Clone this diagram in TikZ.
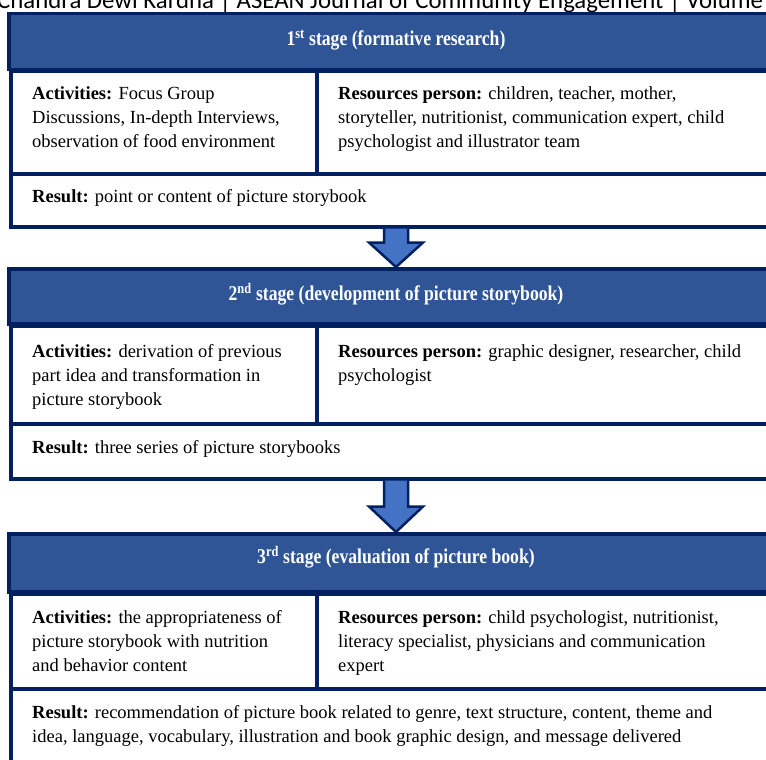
\documentclass[tikz,border=0pt]{standalone}
\usepackage{fontspec}
\setmainfont{Liberation Serif}
\newfontfamily\hdrfont{Carlito}
\usetikzlibrary{calc}
\definecolor{navy}{RGB}{0,32,96}
\definecolor{hdrblue}{RGB}{47,85,151}
\definecolor{arrowblue}{RGB}{68,114,196}
\tikzset{
  hdr/.style={draw=navy, line width=3.5pt, fill=hdrblue, anchor=north west, inner sep=0, minimum width=800pt},
  cell/.style={draw=navy, line width=3.5pt, fill=white, anchor=north west, inner sep=0},
  body/.style={anchor=base west, inner sep=0, align=left, font=\fontsize{18.5}{24}\selectfont},
  title/.style={text=white, inner sep=0, anchor=center, font=\fontsize{21}{21}\selectfont\bfseries},
  blockarrow/.style={draw=navy, line width=2.5pt, fill=arrowblue, line join=miter}
}
\newcommand{\ttl}[1]{\scalebox{0.84}[1]{#1}}
\begin{document}
\begin{tikzpicture}[x=1pt,y=-1pt]
\useasboundingbox (0,0) rectangle (766,760);
\clip (0,0) rectangle (766,760);

\node[anchor=base west, inner sep=0, font=\hdrfont\fontsize{24.8}{24.8}\selectfont] (runhead) at (-3,9) {Chandra Dewi Kardha | ASEAN Journal of Community Engagement | Volume};

% ---------- stage 1
\node[hdr, minimum height=56pt] (h1) at (7,12) {};
\node[cell, minimum width=306pt, minimum height=102pt] (a1) at (9,70) {};
\node[cell, minimum width=480pt, minimum height=102pt] (p1) at (315,70) {};
\node[cell, minimum width=790pt, minimum height=53pt] (r1) at (9,172) {};
\node[title] (t1) at (396,40) {\ttl{1\textsuperscript{st} stage (formative research)}};
\node[body] (ta1) at (32,147) {\textbf{Activities:} Focus Group\\Discussions, In-depth Interviews,\\observation of food environment};
\node[body] (tp1) at (338,147) {\textbf{Resources person:} children, teacher, mother,\\storyteller, nutritionist, communication expert, child\\psychologist and illustrator team};
\node[body] (tr1) at (32,202) {\textbf{Result:} point or content of picture storybook};

% ---------- stage 2
\node[hdr, minimum height=55pt] (h2) at (7,267) {};
\node[cell, minimum width=306pt, minimum height=98pt] (a2) at (9,324) {};
\node[cell, minimum width=480pt, minimum height=98pt] (p2) at (315,324) {};
\node[cell, minimum width=790pt, minimum height=55pt] (r2) at (9,422) {};
\node[title] (t2) at (396,294) {\ttl{2\textsuperscript{nd} stage (development of picture storybook)}};
\node[body] (ta2) at (32,405) {\textbf{Activities:} derivation of previous\\part idea and transformation in\\picture storybook};
\node[body] (tp2) at (338,381) {\textbf{Resources person:} graphic designer, researcher, child\\psychologist};
\node[body] (tr2) at (32,453) {\textbf{Result:} three series of picture storybooks};

% ---------- stage 3
\node[hdr, minimum height=58pt] (h3) at (7,532) {};
\node[cell, minimum width=306pt, minimum height=95pt] (a3) at (9,592) {};
\node[cell, minimum width=480pt, minimum height=95pt] (p3) at (315,592) {};
\node[cell, minimum width=790pt, minimum height=120pt] (r3) at (9,687) {};
\node[title] (t3) at (396,557) {\ttl{3\textsuperscript{rd} stage (evaluation of picture book)}};
\node[body] (ta3) at (32,671) {\textbf{Activities:} the appropriateness of\\picture storybook with nutrition\\and behavior content};
\node[body] (tp3) at (338,671) {\textbf{Resources person:} child psychologist, nutritionist,\\literacy specialist, physicians and communication\\expert};
\node[body] (tr3) at (32,742) {\textbf{Result:} recommendation of picture book related to genre, text structure, content, theme and\\idea, language, vocabulary, illustration and book graphic design, and message delivered};

% ---------- arrows
\coordinate (top1) at (r1.south -| t1);
\coordinate (tip1) at (h2.north -| t1);
\draw[blockarrow] ($(top1)+(-12,0)$) -- ($(top1)+(-12,14)$) -- ($(top1)+(-27,14)$) -- (tip1)
  -- ($(top1)+(27,14)$) -- ($(top1)+(12,14)$) -- ($(top1)+(12,0)$);
\coordinate (top2) at (r2.south -| t2);
\coordinate (tip2) at (h3.north -| t2);
\draw[blockarrow] ($(top2)+(-12,0)$) -- ($(top2)+(-12,26)$) -- ($(top2)+(-27,26)$) -- (tip2)
  -- ($(top2)+(27,26)$) -- ($(top2)+(12,26)$) -- ($(top2)+(12,0)$);
\end{tikzpicture}
\end{document}
